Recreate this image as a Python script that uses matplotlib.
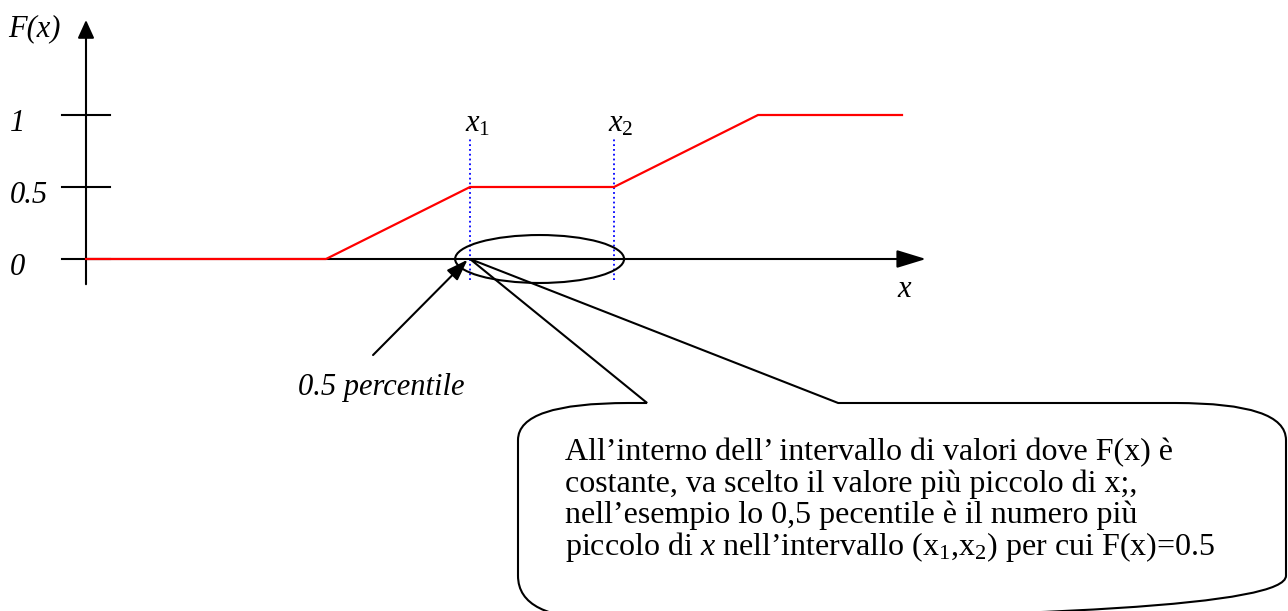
import matplotlib
matplotlib.use("Agg")
import matplotlib.pyplot as plt
from matplotlib.patches import Ellipse, PathPatch
from matplotlib.path import Path

plt.rcParams['font.family'] = ['Liberation Serif', 'DejaVu Serif']
plt.rcParams['mathtext.fontset'] = 'custom'
plt.rcParams['mathtext.rm'] = 'Liberation Serif'
plt.rcParams['mathtext.it'] = 'Liberation Serif:italic'

# dati: funzione di ripartizione F(x)
x_pts = [0, 5, 8, 11, 14, 17]
F_pts = [0, 0, 0.5, 0.5, 1, 1]
x1, x2 = 8, 11
y_ticks = [0, 0.5, 1]
y_tick_labels = ['0', '0.5', '1']

testo_nuvola = [
    "All\u2019interno dell\u2019 intervallo di valori dove F(x) \u00e8",
    "costante, va scelto il valore pi\u00f9 piccolo di x;,",
    "nell\u2019esempio lo 0,5 pecentile \u00e8 il numero pi\u00f9",
    "piccolo di $x$ nell\u2019intervallo ($\\mathrm{x}_1$,$\\mathrm{x}_2$) per cui F(x)=0.5",
]

fig = plt.figure(figsize=(12.88, 6.11), dpi=100)
ax = fig.add_axes([0, 0, 1, 1])
ax.set_xlim(-86 / 48, (1288 - 86) / 48)
ax.set_ylim((259 - 611) / 144, 259 / 144)
ax.axis('off')

# assi con frecce
ax.annotate('', xy=(17.5, 0), xytext=(0, 0),
            arrowprops=dict(arrowstyle='-|>,head_length=1.8,head_width=0.55',
                            color='black', lw=1.5, shrinkA=0, shrinkB=0))
ax.annotate('', xy=(0, 1.66), xytext=(0, -0.175),
            arrowprops=dict(arrowstyle='-|>,head_length=1.1,head_width=0.5',
                            color='black', lw=1.5, shrinkA=0, shrinkB=0))
for t, lab in zip(y_ticks, y_tick_labels):
    ax.plot([-0.5, 0.5], [t, t], color='black', lw=1.5)
    ax.text(-1.58, t - 0.111, lab, style='italic', fontsize=22,
            ha='left', va='baseline')
ax.text(-1.63, 1.55, 'F(x)', style='italic', fontsize=22, ha='left', va='baseline')
ax.text(17.05, -0.215, 'x', style='italic', fontsize=22, ha='center', va='center')

# linee tratteggiate su x1, x2
ax.vlines([x1, x2], -0.146, 0.84, colors='blue', linestyles=':', lw=1.3)
ax.text(x1 - 0.1, 0.882, r'$\mathit{x_1}$', fontsize=22, ha='left', va='baseline')
ax.text(x2 - 0.12, 0.882, r'$\mathit{x_2}$', fontsize=22, ha='left', va='baseline')

# F(x)
ax.plot(x_pts, F_pts, color='red', lw=1.6, zorder=3)

# ellisse attorno all'intervallo costante
ax.add_patch(Ellipse(((x1 + x2) / 2 - 0.05, 0), width=3.52, height=0.333,
                     fill=False, color='black', lw=1.5, zorder=4))

# freccia 0.5 percentile
ax.annotate('', xy=(x1 - 0.05, -0.005), xytext=(5.98, -0.667),
            arrowprops=dict(arrowstyle='-|>,head_length=1.3,head_width=0.45',
                            color='black', lw=1.5, shrinkA=0, shrinkB=0))
ax.text(4.42, -0.944, '0.5 percentile', style='italic', fontsize=22,
        ha='left', va='baseline')

# nuvoletta
L, R, T, B = 9.0, 25.0, -1.0, -2.5
rx_t, ry_t, rx_b, ry_b = 2.3, 0.257, 1.8, 0.3
verts = [
    (11.69, T),
    (L + rx_t, T), (L, T), (L, T - ry_t),
    (L, B + ry_b), (L, B), (L + rx_b, B),
    (R - rx_b, B), (R, B), (R, B + ry_b),
    (R, T - ry_t), (R, T), (R - rx_t, T),
    (15.67, T), (x1, 0), (11.69, T),
]
codes = [Path.MOVETO,
         Path.LINETO, Path.CURVE3, Path.CURVE3,
         Path.LINETO, Path.CURVE3, Path.CURVE3,
         Path.LINETO, Path.CURVE3, Path.CURVE3,
         Path.LINETO, Path.CURVE3, Path.CURVE3,
         Path.LINETO, Path.LINETO, Path.LINETO]
ax.add_patch(PathPatch(Path(verts, codes), fill=False, edgecolor='black',
                       lw=1.5, joinstyle='miter', zorder=5))

for i, riga in enumerate(testo_nuvola):
    ax.text(9.98, -1.396 - i * 0.22, riga, fontsize=23, ha='left', va='baseline')

fig.savefig('out.png', dpi=100)
